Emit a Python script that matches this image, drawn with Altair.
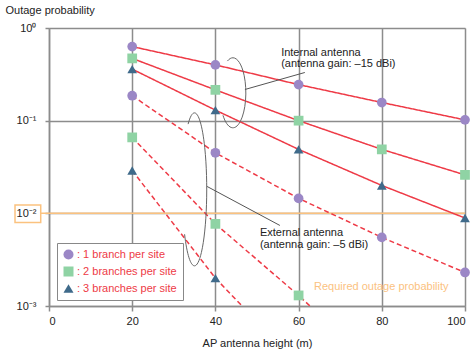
import altair as alt
import pandas as pd

# ---- data ----
heights = [20, 40, 60, 80, 100]
int_1 = [0.63, 0.40, 0.245, 0.157, 0.102]
int_2 = [0.47, 0.215, 0.100, 0.049, 0.026]
int_3 = [0.36, 0.13, 0.049, 0.020, 0.0089]
ext_1 = [0.186, 0.045, 0.0145, 0.0055, 0.0023]
ext_2 = [0.066, 0.0077, 0.0013]
ext_3 = [0.029, 0.0020]
# continuation of the dashed lines below the plot floor (line only, clipped)
ext_2_tail_x = [80]
ext_2_tail_y = [0.00019]
ext_3_tail_x = [60]
ext_3_tail_y = [0.00023]

series_labels = ["1", "2", "3"]
legend_text = [": 1 branch per site", ": 2 branches per site", ": 3 branches per site"]
marker_colors = ["#9b87c6", "#8fd3a4", "#3f6a8a"]
marker_shapes = ["circle", "square", "triangle-up"]
y_ticks = [1, 0.1, 0.01, 0.001]
y_tick_text = ["10⁰", "10⁻¹", "10⁻²", "10⁻³"]
x_ticks = [0, 20, 40, 60, 80, 100]

RED = "#ee3a46"
GRID = "#8c8c8c"
ORANGE = "#fbc27f"
FONT = "Liberation Sans"

pts, lines = [], []
for ant, arrs in (("int", [int_1, int_2, int_3]), ("ext", [ext_1, ext_2, ext_3])):
    for s, vals in zip(series_labels, arrs):
        for x, v in zip(heights, vals):
            pts.append({"h": x, "p": v, "branch": s, "ant": ant})
            lines.append({"h": x, "p": v, "key": ant + s, "ant": ant})
for x, v in zip(ext_2_tail_x, ext_2_tail_y):
    lines.append({"h": x, "p": v, "key": "ext2", "ant": "ext"})
for x, v in zip(ext_3_tail_x, ext_3_tail_y):
    lines.append({"h": x, "p": v, "key": "ext3", "ant": "ext"})
pts = pd.DataFrame(pts)
lines = pd.DataFrame(lines)

xs = alt.Scale(domain=[0, 100], nice=False, zero=False)
ys = alt.Scale(type="log", domain=[0.001, 1], nice=False)

label_expr = " : ".join(
    f"datum.value == {v} ? '{t}'" for v, t in zip(y_ticks, y_tick_text)
) + " : ''"

legend_expr = " : ".join(
    f"datum.label == '{s}' ? '{t}'" for s, t in zip(series_labels, legend_text)
) + " : ''"

line_layer = alt.Chart(lines).mark_line(color=RED, strokeWidth=1.5, clip=True).encode(
    x=alt.X("h:Q", scale=xs, axis=alt.Axis(
        values=x_ticks, grid=True, gridColor=GRID, gridWidth=1.5,
        domainColor=GRID, domainWidth=1.5, tickColor=GRID, tickWidth=1.5, tickSize=5,
        labelFontSize=11, labelColor="#222", labelFont=FONT, labelPadding=4,
        title="AP antenna height (m)", titleFont=FONT, titleFontSize=11,
        titleFontWeight="normal", titleColor="#222", titleY=37, titleBaseline="middle")),
    y=alt.Y("p:Q", scale=ys, axis=alt.Axis(
        values=y_ticks, labelExpr=label_expr, grid=True, gridColor=GRID, gridWidth=1.5,
        domainColor=GRID, domainWidth=1.5, tickColor=GRID, tickWidth=1.5, tickSize=4,
        labelFontSize=11, labelColor="#222", labelFont=FONT, labelPadding=9,
        title="Outage probability", titleAngle=0, titleAlign="left", titleX=-44, titleY=-18,
        titleBaseline="middle", titleFont=FONT, titleFontSize=11, titleFontWeight="normal",
        titleColor="#222")),
    detail="key:N",
    strokeDash=alt.StrokeDash("ant:N", scale=alt.Scale(domain=["int", "ext"], range=[[1, 0], [5, 3]]), legend=None),
)

point_layer = alt.Chart(pts).mark_point(filled=True, opacity=1, size=95).encode(
    x=alt.X("h:Q", scale=xs),
    y=alt.Y("p:Q", scale=ys),
    color=alt.Color("branch:N", scale=alt.Scale(domain=series_labels, range=marker_colors),
                    legend=alt.Legend(title=None, orient="none", legendX=8, legendY=215,
                                      labelExpr=legend_expr, labelColor=RED, labelFont=FONT,
                                      labelFontSize=11, symbolSize=100, strokeColor="#888",
                                      fillColor="white", padding=6, rowPadding=5, labelOffset=3,
                                      symbolStrokeWidth=0)),
    shape=alt.Shape("branch:N", scale=alt.Scale(domain=series_labels, range=marker_shapes),
                    legend=None),
)

# required outage probability line and boxed label
req = pd.DataFrame({"x": [-1.99], "x2": [100], "y": [0.01]})
req_rule = alt.Chart(req).mark_rule(color=ORANGE, strokeWidth=1.5, clip=False).encode(
    x=alt.X("x:Q", scale=xs), x2="x2:Q", y=alt.Y("y:Q", scale=ys))
box = pd.DataFrame({"x": [-8.17], "x2": [-1.99], "y": [0.01227], "y2": [0.00798]})
box_rect = alt.Chart(box).mark_rect(fillOpacity=0, stroke=ORANGE, strokeWidth=1.5, clip=False).encode(
    x=alt.X("x:Q", scale=xs), x2="x2:Q", y=alt.Y("y:Q", scale=ys), y2="y2:Q")

# annotations
ann_text = pd.DataFrame({
    "x": [55.8, 55.8, 50.7, 50.7],
    "y": [0.544, 0.404, 0.00607, 0.00451],
    "t": ["Internal antenna", "(antenna gain: –15 dBi)", "External antenna", "(antenna gain: –5 dBi)"],
})
ann = alt.Chart(ann_text).mark_text(align="left", baseline="middle", font=FONT, fontSize=11, color="#222").encode(
    x=alt.X("x:Q", scale=xs), y=alt.Y("y:Q", scale=ys), text="t:N")

req_text = pd.DataFrame({"x": [63.7], "y": [0.00159], "t": ["Required outage probability"]})
req_lbl = alt.Chart(req_text).mark_text(align="left", baseline="middle", font=FONT, fontSize=11, color=ORANGE).encode(
    x=alt.X("x:Q", scale=xs), y=alt.Y("y:Q", scale=ys), text="t:N")

leaders = pd.DataFrame({"x": [47.1, 38.0], "x2": [61.5, 55.5], "y": [0.217, 0.0195], "y2": [0.331, 0.0074]})
leader = alt.Chart(leaders).mark_rule(color="#555", strokeWidth=1).encode(
    x=alt.X("x:Q", scale=xs), x2="x2:Q", y=alt.Y("y:Q", scale=ys), y2="y2:Q")

int_ell = alt.Chart(pd.DataFrame({"x": [44.2], "y": [0.20]})).mark_point(
    shape="M -0.156 -0.906 A 0.37 1 0 1 1 -0.283 0.643", filled=False, stroke="#666",
    strokeWidth=1, size=4900, opacity=1).encode(x=alt.X("x:Q", scale=xs), y=alt.Y("y:Q", scale=ys))
ext_ell = alt.Chart(pd.DataFrame({"x": [35.0], "y": [0.0177]})).mark_point(
    shape="M -0.085 -0.866 A 0.16 1 0 1 1 -0.131 0.574", filled=False, stroke="#666",
    strokeWidth=1, size=23400, opacity=1).encode(x=alt.X("x:Q", scale=xs), y=alt.Y("y:Q", scale=ys))

chart = alt.layer(
    req_rule, box_rect, line_layer, int_ell, ext_ell, leader, point_layer, ann, req_lbl
).properties(
    width=416, height=278,
    autosize=alt.AutoSizeParams(type="none"),
    padding={"left": 49, "top": 28, "right": 11, "bottom": 47},
).configure_view(stroke=None).configure(background="white")

chart.save("out.html", embed_options={"renderer": "svg", "actions": False})
